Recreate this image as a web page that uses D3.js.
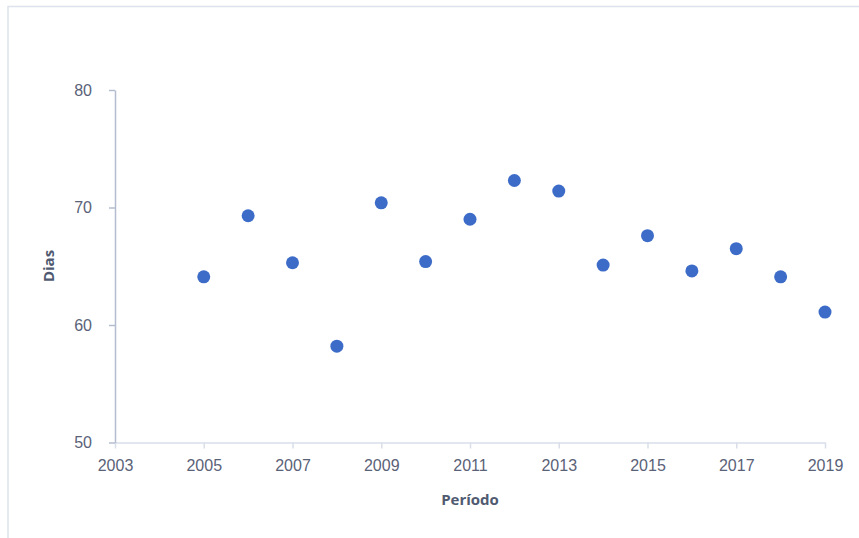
<!DOCTYPE html>
<html><head><meta charset="utf-8">
<script src="https://cdn.jsdelivr.net/npm/d3@7"></script>
<style>body{margin:0;background:#fff;}svg{display:block;font-family:"Open Sans",sans-serif;}</style>
</head><body><svg id="c" width="859" height="538"></svg>
<script>
const years = [2005,2006,2007,2008,2009,2010,2011,2012,2013,2014,2015,2016,2017,2018,2019];
const dias = [64.1,69.3,65.3,58.2,70.4,65.4,69.0,72.3,71.4,65.1,67.6,64.6,66.5,64.1,61.1];
const xTicks = [2003,2005,2007,2009,2011,2013,2015,2017,2019];
const yTicks = [50,60,70,80];

const svg = d3.select("#c");
svg.append("rect").attr("x",8).attr("y",6.5).attr("width",900).attr("height",600)
  .attr("fill","none").attr("stroke","#dde2ec").attr("stroke-width",1.5);

const x = d3.scaleLinear().domain([2003,2019]).range([115,825]);
const y = d3.scaleLinear().domain([50,80]).range([442.5,90]);

const xa = svg.append("g").attr("transform","translate(0,442.5)")
  .call(d3.axisBottom(x).tickValues(xTicks).tickFormat(d3.format("d")).tickSize(6).tickSizeOuter(0).tickPadding(11));
xa.select(".domain").attr("stroke","#d9dee8").attr("stroke-width",1.5);
xa.selectAll(".tick line").attr("stroke","#d9dee8").attr("stroke-width",1.5);
xa.selectAll("text").attr("fill","#5a6278").attr("font-size","16px");

const ya = svg.append("g").attr("transform","translate(115,0)")
  .call(d3.axisLeft(y).tickValues(yTicks).tickSize(6).tickSizeOuter(0).tickPadding(17));
ya.select(".domain").attr("stroke","#b4bdcf").attr("stroke-width",1.5);
ya.selectAll(".tick line").attr("stroke","#b4bdcf").attr("stroke-width",1.5);
ya.selectAll("text").attr("fill","#5a6278").attr("font-size","16px");

svg.append("text").attr("x",470).attr("y",505).attr("text-anchor","middle")
  .attr("font-size","15px").attr("font-weight","bold").attr("fill","#4f5a70").text("Período");
svg.append("text").attr("transform","translate(54,266) rotate(-90)").attr("text-anchor","middle")
  .attr("font-size","15px").attr("font-weight","bold").attr("fill","#4f5a70").text("Dias");

svg.append("g").selectAll("circle").data(years).join("circle")
  .attr("cx",(d)=>x(d)).attr("cy",(d,i)=>y(dias[i])).attr("r",6.5).attr("fill","#3d6cc8");
</script></body></html>
